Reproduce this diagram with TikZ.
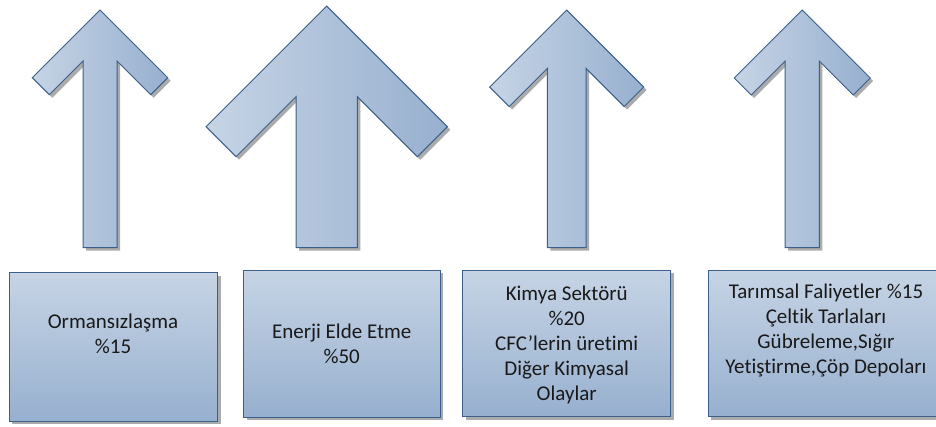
\documentclass[tikz,border=0pt]{standalone}
\usepackage{fontspec}
\setmainfont[Ligatures=NoCommon]{Carlito}
\usetikzlibrary{shadows}
\definecolor{edgeblue}{HTML}{3A5F8B}
\definecolor{lightb}{HTML}{C6D4E5}
\definecolor{darkb}{HTML}{97B0CF}
\definecolor{shad}{HTML}{ABABAB}
\tikzset{
  shapeshadow/.style={drop shadow={shadow xshift=3pt, shadow yshift=-3pt, fill=shad, draw=none, opacity=1}},
  arrowshape/.style={draw=edgeblue, line width=1pt, line join=miter, left color=lightb, right color=darkb, shapeshadow},
  boxshape/.style={draw=edgeblue, line width=1pt, top color=lightb, bottom color=darkb, shapeshadow},
  lbl/.style={align=center, inner sep=0pt, text=black!90, font=\fontsize{21}{25}\selectfont}
}
% #1 cx, #2 tip y, #3 head half width, #4 wing offset, #5 shaft half width, #6 bottom y
\newcommand\chevarrow[6]{%
  \draw[arrowshape] (#1,#2) -- ({#1-#3},{#2+#3}) -- ({#1-#3+#4},{#2+#3+#4})
    -- ({#1-#5},{#2+2*#4+#5}) -- ({#1-#5},#6) -- ({#1+#5},#6)
    -- ({#1+#5},{#2+2*#4+#5}) -- ({#1+#3-#4},{#2+#3+#4}) -- ({#1+#3},{#2+#3}) -- cycle;}
\begin{document}
\begin{tikzpicture}[x=1pt, y=-1pt]
  \clip (0,0) rectangle (936,426);
  \fill[white] (0,0) rectangle (936,426);
  % arrows
  \chevarrow{100}{10}{67.7}{17}{17}{247.7}
  \chevarrow{326.7}{6}{120.7}{30}{30.65}{247.7}
  \chevarrow{566.7}{10}{77}{19.5}{19.35}{247.7}
  \chevarrow{802.2}{10}{68}{17}{17.15}{247.7}
  % boxes
  \draw[boxshape] (9.3,272.7) rectangle (217.7,421);
  \draw[boxshape] (243.7,270.3) rectangle (440.3,417);
  \draw[boxshape] (462.7,270) rectangle (670.7,416.7);
  \draw[boxshape] (708,270) rectangle (944,416.7);
  % texts
  \node[lbl] (t1) at (113,334) {Ormansızlaşma\\\%15};
  \node[lbl] (t2) at (341.7,344) {Enerji Elde Etme\\\%50};
  \node[lbl] (t3) at (566.7,344.5) {Kimya Sektörü\\\%20\\CFC’lerin üretimi\\Diğer Kimyasal\\Olaylar};
  \node[lbl] (t4) at (826,330) {Tarımsal Faliyetler \%15\\Çeltik Tarlaları\\Gübreleme,Sığır\\Yetiştirme,Çöp Depoları};
\end{tikzpicture}
\end{document}
